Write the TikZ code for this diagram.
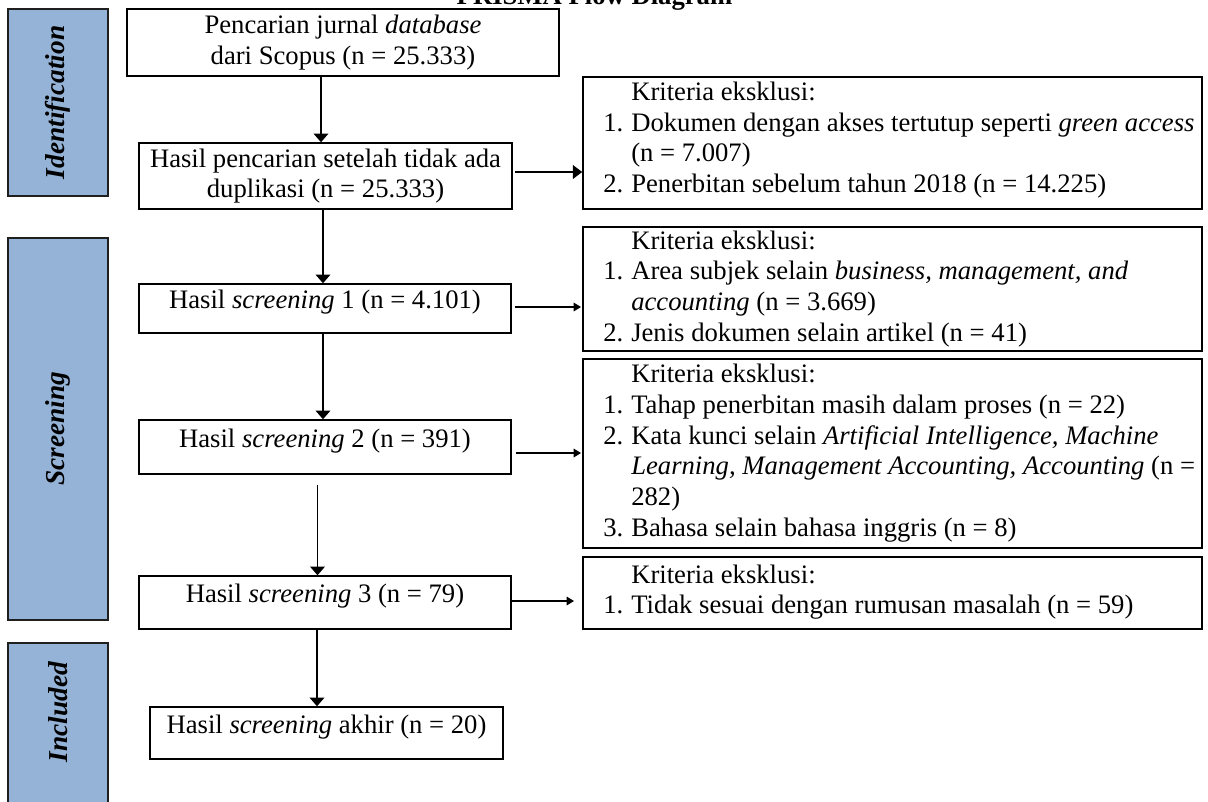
\documentclass[tikz,border=0pt]{standalone}
\usepackage{fontspec}
\setmainfont{Liberation Serif}
\usetikzlibrary{arrows.meta,fit}
\definecolor{barblue}{HTML}{95B3D7}
\definecolor{bardraw}{HTML}{1F1F1F}
\begin{document}
\begin{tikzpicture}[x=0.75pt,y=-0.75pt,
  font=\fontsize{20}{23}\selectfont,
  box/.style={draw=black,line width=1.1pt,inner sep=0pt,align=center},
  onel/.style={text height=10pt,text depth=10pt},
  bar/.style={draw=bardraw,fill=barblue,line width=1.1pt,inner sep=0pt,minimum width=75pt},
  bartext/.style={rotate=90,inner sep=0pt,font=\fontsize{20.5}{23}\selectfont\bfseries\itshape},
  downarr/.style={line width=1.1pt,-{Triangle[length=6.5pt,width=11pt]}},
  boldarr/.style={line width=1.8pt,-{Triangle[length=7pt,width=10pt]}},
  thinarr/.style={line width=0.8pt,-{Triangle[length=5.5pt,width=6.5pt]}},
  crit/.style={anchor=west,inner sep=0pt,align=left}
]
\useasboundingbox (0,0) rectangle (1208,801);

% title (partly cut at the top)
\node[font=\fontsize{20}{23}\selectfont\bfseries,anchor=base,inner sep=0pt] (title) at (594.5,4) {PRISMA Flow Diagram};

% phase bars
\node[bar,minimum height=140.25pt] (idb) at (58,102.5) {};
\node[bar,minimum height=286.5pt] (scb) at (58,429) {};
\node[bar,minimum height=122.25pt] (inb) at (58,724.5) {};
\node[bartext] (idt) at (idb.center) {Identification};
\node[bartext] (sct) at (scb.center) {Screening};
\node[bartext] (int) at (inb.center |- 0,712) {Included};

% main column
\node[box,minimum width=324pt,minimum height=50.25pt] (b1) at (343,42.5) {Pencarian jurnal \textit{database}\\dari Scopus (n = 25.333)};
\node[box,minimum width=279.75pt,minimum height=49.5pt] (b2) at (325.5,176) {Hasil pencarian setelah tidak ada\\duplikasi (n = 25.333)};
\node[box,onel,minimum width=279pt,minimum height=36.75pt] (b3) at (325,308.5) {Hasil \textit{screening} 1 (n = 4.101)};
\node[box,onel,minimum width=279pt,minimum height=40.5pt] (b4) at (325,447) {Hasil \textit{screening} 2 (n = 391)};
\node[box,onel,minimum width=279pt,minimum height=39.75pt] (b5) at (325,602.5) {Hasil \textit{screening} 3 (n = 79)};
\node[box,onel,minimum width=264.75pt,minimum height=39pt] (b6) at (326.5,733) {Hasil \textit{screening} akhir (n = 20)};

% exclusion boxes
\node[box,fit={(583,77)(1202,209)}] (r1) {};
\node[box,fit={(583,227)(1202,351)}] (r2) {};
\node[box,fit={(583,359)(1202,548)}] (r3) {};
\node[box,fit={(583,557)(1202,629)}] (r4) {};

\node[crit] (r1t) at (603,140.5) {\begin{tabular}{@{}r@{\hspace{6pt}}l@{}}
 & Kriteria eksklusi:\\
1. & Dokumen dengan akses tertutup seperti \textit{green access}\\
 & (n = 7.007)\\
2. & Penerbitan sebelum tahun 2018 (n = 14.225)
\end{tabular}};
\node[crit] (r2t) at (603,289) {\begin{tabular}{@{}r@{\hspace{6pt}}l@{}}
 & Kriteria eksklusi:\\
1. & Area subjek selain \textit{business, management, and}\\
 & \textit{accounting} (n = 3.669)\\
2. & Jenis dokumen selain artikel (n = 41)
\end{tabular}};
\node[crit] (r3t) at (603,453.5) {\begin{tabular}{@{}r@{\hspace{6pt}}l@{}}
 & Kriteria eksklusi:\\
1. & Tahap penerbitan masih dalam proses (n = 22)\\
2. & Kata kunci selain \textit{Artificial Intelligence, Machine}\\
 & \textit{Learning, Management Accounting, Accounting} (n =\\
 & 282)\\
3. & Bahasa selain bahasa inggris (n = 8)
\end{tabular}};
\node[crit] (r4t) at (603,592.5) {\begin{tabular}{@{}r@{\hspace{6pt}}l@{}}
 & Kriteria eksklusi:\\
1. & Tidak sesuai dengan rumusan masalah (n = 59)
\end{tabular}};

% vertical connectors
\draw[downarr] (b1.south -| 321,0) -- (b2.north -| 321,0);
\draw[downarr] (b2.south -| 323,0) -- (b3.north -| 323,0);
\draw[downarr] (b3.south -| 323,0) -- (b4.north -| 323,0);
\coordinate (s4) at (317.5,485);
\draw[downarr] (s4) -- (s4 |- b5.north);
\draw[downarr] (b5.south -| 317,0) -- (b6.north -| 317,0);

% horizontal connectors
\coordinate (sA) at (515,172);
\draw[boldarr] (sA) -- (sA -| r1.west);
\coordinate (sB) at (515,307);
\coordinate (eB) at (581,307);
\draw[thinarr] (sB) -- (eB);
\coordinate (sC) at (516,453);
\coordinate (eC) at (581,453);
\draw[thinarr] (sC) -- (eC);
\coordinate (sD) at (511,601);
\coordinate (eD) at (574,601);
\draw[thinarr] (sD) -- (eD);
\end{tikzpicture}
\end{document}
